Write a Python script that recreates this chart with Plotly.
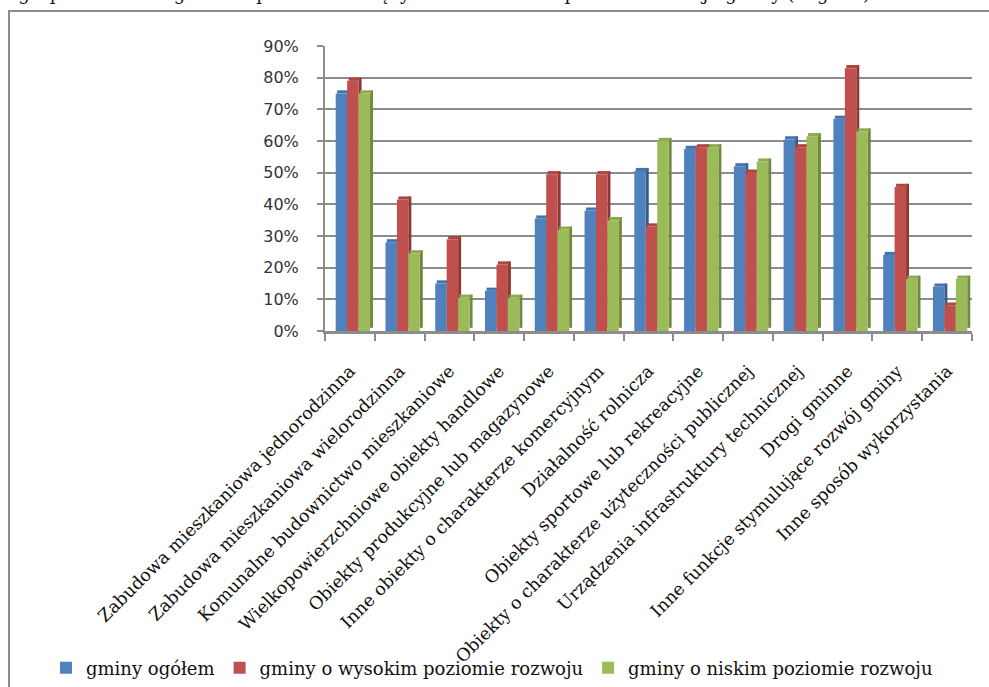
import plotly.graph_objects as go

categories = [
    "Zabudowa mieszkaniowa jednorodzinna",
    "Zabudowa mieszkaniowa wielorodzinna",
    "Komunalne budownictwo mieszkaniowe",
    "Wielkopowierzchniowe obiekty handlowe",
    "Obiekty produkcyjne lub magazynowe",
    "Inne obiekty o charakterze komercyjnym",
    "Działalność rolnicza",
    "Obiekty sportowe lub rekreacyjne",
    "Obiekty o charakterze użyteczności publicznej",
    "Urządzenia infrastruktury technicznej",
    "Drogi gminne",
    "Inne funkcje stymulujące rozwój gminy",
    "Inne sposób wykorzystania",
]
series_names = ["gminy ogółem", "gminy o wysokim poziomie rozwoju", "gminy o niskim poziomie rozwoju"]
ogolem = [75, 28, 15, 12.7, 35.5, 38, 50.5, 57.5, 52, 60.5, 67, 24, 14]
wysoki = [79, 41.5, 29, 21, 49.5, 49.5, 33, 58, 50, 58, 83, 45.5, 8]
niski = [75, 24.5, 10.5, 10.5, 32, 35, 60, 58, 53.5, 61.5, 63, 16.5, 16.5]
y_ticks = [0, 10, 20, 30, 40, 50, 60, 70, 80, 90]
y_ticktext = [f"{v}%" for v in y_ticks]

# styles
front_colors = ["#4F81BD", "#C0504D", "#9BBB59"]
side_colors = ["#385D8A", "#8C3836", "#71893F"]
cap_colors = ["#4474AE", "#B0453F", "#8CAA4E"]
offsets = [-0.285, -0.055, 0.175]
BAR_W = 0.23
SIDE_W = 0.06
DEPTH = 1.0

# plot-area geometry in pixels (for paper-referenced decorations)
W, H = 989, 687
L, R, T, B = 325, 17, 46, 356
PW, PH = W - L - R, H - T - B


def px_x(p):
    return (p - L) / PW


def px_y(p):
    return (H - B - p) / PH


fig = go.Figure()
for vals, name, fc, sc, cc, off in zip([ogolem, wysoki, niski], series_names,
                                       front_colors, side_colors, cap_colors, offsets):
    fig.add_trace(go.Bar(x=categories, y=vals, base=DEPTH, offset=off + BAR_W, width=SIDE_W,
                         marker=dict(color=sc, line=dict(width=0)), showlegend=False,
                         hoverinfo="skip"))
    fig.add_trace(go.Bar(x=categories, y=[DEPTH] * len(vals), base=vals, offset=off + SIDE_W / 2,
                         width=BAR_W, marker=dict(color=cc, line=dict(width=0)), showlegend=False,
                         hoverinfo="skip"))
    fig.add_trace(go.Bar(x=categories, y=vals, offset=off, width=BAR_W, name=name,
                         marker=dict(color=fc, line=dict(width=0))))

serif = "DejaVu Serif"
fig.update_layout(
    width=W, height=H,
    margin=dict(l=L, r=R, t=T, b=B, autoexpand=False),
    paper_bgcolor="white", plot_bgcolor="white",
    barmode="overlay",
    showlegend=True,
    legend=dict(orientation="h", xref="paper", x=px_x(46), xanchor="left",
                yref="paper", y=px_y(668), yanchor="middle",
                bgcolor="rgba(0,0,0,0)",
                font=dict(family=serif, size=18, color="#111"),
                itemwidth=30, tracegroupgap=0, traceorder="normal"),
    xaxis=dict(type="category", tickson="boundaries", ticks="outside", ticklen=7,
               tickcolor="#8c8c8c", tickwidth=2, showline=True, linecolor="#8c8c8c",
               linewidth=3, tickangle=-45, ticklabelstandoff=20,
               tickfont=dict(family=serif, size=17.5, color="#111"),
               showgrid=False, range=[-0.5, 12.5]),
    yaxis=dict(range=[0, 90], tickvals=y_ticks, ticktext=y_ticktext, ticks="outside",
               ticklen=6, tickcolor="#8c8c8c", tickwidth=2, showline=True,
               linecolor="#8c8c8c", linewidth=2, showgrid=True, gridcolor="#8c8c8c",
               gridwidth=2, zeroline=False, ticklabelstandoff=15,
               tickfont=dict(family="DejaVu Sans", size=16, color="#333")),
)

# outer frame of the chart area (partially outside the page, as in the reference)
fig.add_shape(type="rect", xref="paper", yref="paper",
              x0=px_x(9), x1=px_x(1005), y0=px_y(705), y1=px_y(11),
              line=dict(color="#8a8a8a", width=2), fillcolor="rgba(0,0,0,0)", layer="below")

# clipped caption line above the chart
fig.add_annotation(text="zagospodarowania gruntów przez samorządy w zależności od poziomu rozwoju gminy (% gmin).",
                   xref="paper", yref="paper", x=px_x(-4), y=px_y(-7),
                   xanchor="left", yanchor="middle", showarrow=False,
                   font=dict(family=serif, size=18, color="#111"))

fig.write_html("out.html")
